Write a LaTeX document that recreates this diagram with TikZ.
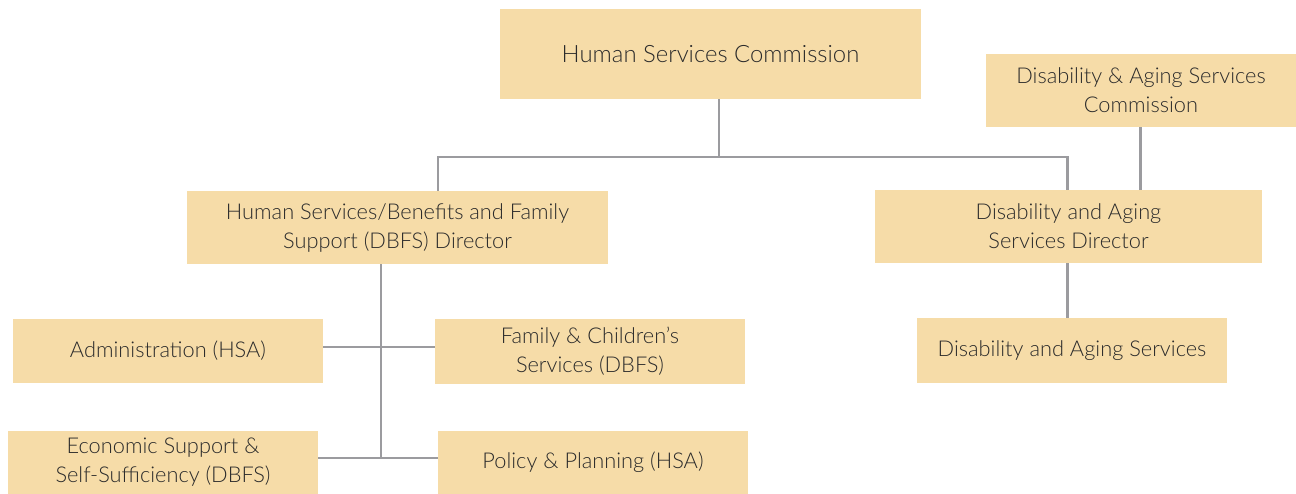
\documentclass[tikz,border=0pt]{standalone}
\usepackage{fontspec}
\setmainfont{Lato Light}
\usepackage{xcolor}
\definecolor{sand}{HTML}{F6DCA8}
\definecolor{ink}{HTML}{2B2B2B}
\definecolor{wire}{HTML}{9B9B9F}
\usepackage{tikz}
\usetikzlibrary{positioning}

\tikzset{
  unit/.style={fill=sand,text=ink,inner sep=0pt,align=center,font=\fontsize{12.4}{16.5}\selectfont},
  link/.style={draw=wire,line width=1.7pt}
}

\begin{document}
\begin{tikzpicture}[x=0.02cm,y=-0.02cm]
  \useasboundingbox (0,0) rectangle (1296,494);
  % top level
  \node[unit,font=\fontsize{13.6}{16.5}\selectfont,minimum width=8.42cm,minimum height=1.80cm] (hsc) at (710.5,54) {Human Services Commission};
  \node[unit,minimum width=6.20cm,minimum height=1.46cm] (dasc) at (1141,90.5) {Disability \& Aging Services\\Commission};
  % directors
  \node[unit,minimum width=8.42cm,minimum height=1.46cm] (dbfs) at (397.5,227.5) {Human Services/Benefits and Family\\Support (DBFS) Director};
  \node[unit,minimum width=7.74cm,minimum height=1.46cm] (dad) at (1068.5,226.5) {Disability and Aging\\Services Director};
  % divisions
  \node[unit,minimum width=6.20cm,minimum height=1.28cm] (admin) at (168,351) {Administration (HSA)};
  \node[unit,minimum width=6.20cm,minimum height=1.30cm] (fcs) at (590,351.5) {Family \& Children's\\Services (DBFS)};
  \node[unit,minimum width=6.20cm,minimum height=1.30cm] (das) at (1072,350.5) {Disability and Aging Services};
  \node[unit,minimum width=6.20cm,minimum height=1.26cm] (ess) at (163,462.5) {Economic Support \&\\Self-Sufficiency (DBFS)};
  \node[unit,minimum width=6.20cm,minimum height=1.26cm] (pp) at (593,462.5) {Policy \& Planning (HSA)};
  % bus points
  \coordinate (topjoin) at (719,157);
  \coordinate (busL) at (438,157);
  \coordinate (busR) at (1067,157);
  \coordinate (spine) at (381,458);
  \coordinate (rowA) at (381,347);
  % connectors
  \draw[link] (topjoin |- hsc.south) -- (topjoin);
  \draw[link] (busL |- dbfs.north) -- (busL) -- (busR) -- (busR |- dad.north);
  \draw[link] (dasc.south -| 1140,0) -- (dad.north -| 1140,0);
  \draw[link] (dad.south -| busR) -- (das.north -| busR);
  \draw[link] (spine |- dbfs.south) -- (spine);
  \draw[link] (admin.east |- rowA) -- (fcs.west |- rowA);
  \draw[link] (ess.east |- spine) -- (pp.west |- spine);
\end{tikzpicture}
\end{document}
